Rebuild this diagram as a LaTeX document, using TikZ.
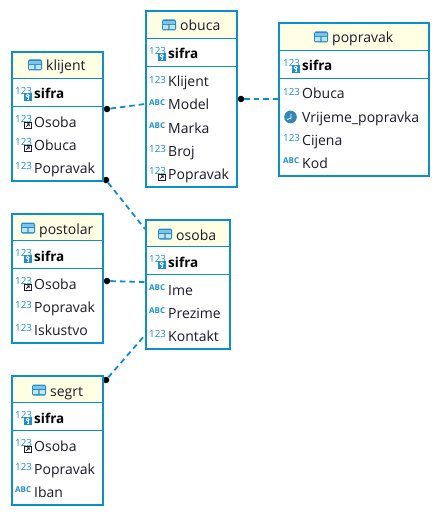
\documentclass[tikz,border=0pt]{standalone}
\usepackage{fontspec}
\setmainfont{Open Sans}
\usetikzlibrary{calc}

\definecolor{tableblue}{HTML}{0A8FCF}
\definecolor{iconblue}{HTML}{1E8FD0}
\definecolor{headyellow}{HTML}{FFFFE3}
\definecolor{reftext}{HTML}{1A1A2A}

\tikzset{
  tablebox/.style={rectangle, draw=tableblue, fill=white, line width=2pt, anchor=north west, inner sep=0pt, outer sep=0pt},
  tablename/.style={anchor=base west, inner sep=0pt, text=reftext, font=\fontsize{14}{16}\selectfont},
  fieldname/.style={anchor=base west, inner sep=0pt, text=reftext, font=\fontsize{14}{16}\selectfont},
  keyname/.style={fieldname, font=\fontsize{13.5}{16}\selectfont\bfseries, text=black},
  enddot/.style={circle, fill=black, inner sep=0pt, minimum size=6.5pt},
  relation/.style={draw=tableblue, line width=1.8pt, dash pattern=on 5.5pt off 4pt},
  icontext/.style={anchor=west, inner sep=0pt, text=iconblue, font=\fontsize{9.8}{11}\selectfont},
  pics/iconnum/.style={code={\node[icontext] (-t) at (0,-2) {123};}},
  pics/iconabc/.style={code={\node[icontext, font=\fontsize{8}{10}\selectfont\bfseries] (-t) at (0,-2) {ABC};}},
  pics/iconkey/.style={code={
    \node[icontext] (-t) at (0,-3) {123};
    \fill[iconblue] (9,-1) rectangle (16.5,7);
    \draw[white, line width=0.9pt] (12.7,1.6) circle (1.5pt);
    \draw[white, line width=0.9pt] (13.5,3) -- (13.5,5.6) -- (12,5.6);
  }},
  pics/iconref/.style={code={
    \node[icontext] (-t) at (0,-3) {123};
    \draw[reftext, fill=white, line width=0.8pt] (9.5,0) rectangle (16,6.5);
    \draw[reftext, line width=0.8pt] (11.3,4.6) -- (14.2,1.8) (12,1.8) -- (14.2,1.8) -- (14.2,4);
  }},
  pics/iconclock/.style={code={
    \fill[iconblue!85!black!90] (7.5,0) circle (6.3pt);
    \draw[white, line width=0.9pt] (8,-3) -- (8,1) -- (4,2.5);
  }},
  pics/icontable/.style={code={
    \fill[iconblue, rounded corners=1.5pt] (0,-5.5) rectangle (14,5.5);
    \fill[iconblue!55] (1.2,-3.8) rectangle (12.8,-1.2);
    \fill[iconblue!25] (1.2,0) rectangle (6.4,4.2) (7.6,0) rectangle (12.8,4.2);
  }}
}

\begin{document}
\begin{tikzpicture}[x=1pt, y=-1pt]
  \useasboundingbox (0,0) rectangle (440,516);

  % Relations go under the tables
  \node[enddot] (dotKlijent) at (107,109) {};
  \node[enddot] (dotLower) at (106,180) {};
  \node[enddot] (dotObuca) at (241,99) {};
  \node[enddot] (dotPostolar) at (107,281) {};
  \node[enddot] (dotSegrt) at (106,380) {};
  \coordinate (endObuca) at (145,104);
  \coordinate (endPopravak) at (278,99);
  \coordinate (endOsobaTop) at (145,229);
  \coordinate (endOsobaMid) at (145,282);
  \coordinate (endOsobaLow) at (145,335);
  \draw[relation] (dotKlijent) -- (endObuca);
  \draw[relation] (dotObuca) -- (endPopravak);
  \draw[relation] (dotLower) -- (endOsobaTop);
  \draw[relation] (dotPostolar) -- (endOsobaMid);
  \draw[relation] (dotSegrt) -- (endOsobaLow);

  % Tables: name, corner, size, header icon and title position
  \foreach \tb/\bx/\by/\bw/\bh/\ix/\ty in {
    klijent/11.5/52/91.5/129/28/71,
    obuca/145.5/11.5/91.5/175.5/162/31,
    popravak/279/23.5/149.5/152/314/43,
    postolar/11.5/214/91.5/129/21/234,
    osoba/145.5/220/84.5/128.5/158/240,
    segrt/11.5/375.5/91.5/129/32/396} {
    \node[tablebox, minimum width=\bw pt, minimum height=\bh pt] (\tb) at (\bx,\by) {};
    \fill[headyellow] (\tb.north west) rectangle ($(\tb.north east)+(0,26.7)$);
    \draw[tableblue, line width=1pt] ($(\tb.north west)+(0,26.7)$) -- ($(\tb.north east)+(0,26.7)$);
    \draw[tableblue, line width=1pt] ($(\tb.north west)+(0,54.7)$) -- ($(\tb.north east)+(0,54.7)$);
    \draw[tableblue, line width=2pt] (\tb.north west) rectangle (\tb.south east);
    \pic (head\tb) at (\ix,{\ty-6}) {icontable};
    \node[tablename] (title\tb) at ({\ix+18},\ty) {\tb};
  }

  % Key fields
  \foreach \tb/\fx/\fy in {klijent/15/94, obuca/149/54, popravak/283/66, postolar/15/256, osoba/149/262, segrt/15/418} {
    \pic (key\tb) at (\fx,\fy) {iconkey};
    \node[keyname] (sifra\tb) at ({\fx+19},{\fy+5}) {sifra};
  }

  % Other fields
  \foreach \fx/\fy/\icon/\field [count=\r] in {
    15/122/iconref/Osoba, 15/145/iconref/Obuca, 15/168/iconnum/Popravak,
    149/82/iconnum/Klijent, 149/105/iconabc/Model, 149/128/iconabc/Marka,
    149/151/iconnum/Broj, 149/174/iconref/Popravak,
    283/94/iconnum/Obuca, 283/117/iconclock/Vrijeme\_popravka, 283/140/iconnum/Cijena, 283/163/iconabc/Kod,
    15/284/iconref/Osoba, 15/307/iconnum/Popravak, 15/330/iconnum/Iskustvo,
    149/290/iconabc/Ime, 149/313/iconabc/Prezime, 149/336/iconnum/Kontakt,
    15/446/iconref/Osoba, 15/469/iconnum/Popravak, 15/492/iconabc/Iban} {
    \pic (icon\r) at (\fx,\fy) {\icon};
    \node[fieldname] (field\r) at ({\fx+19},{\fy+5}) {\field};
  }
\end{tikzpicture}
\end{document}
